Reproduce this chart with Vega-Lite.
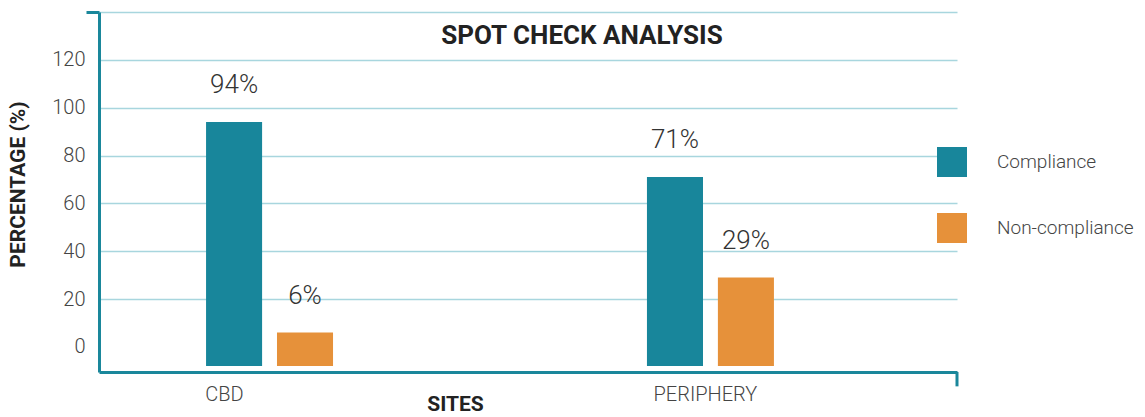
{
  "$schema": "https://vega.github.io/schema/vega-lite/v6.json",
  "width": 858,
  "height": 360,
  "autosize": "none",
  "padding": {"left": 99, "top": 12, "right": 188, "bottom": 45},
  "background": "white",
  "config": {
    "view": {"stroke": null},
    "font": "Roboto",
    "axis": {"labelFont": "Roboto", "titleFont": "Roboto"}
  },
  "title": {
    "text": "SPOT CHECK ANALYSIS",
    "font": "Roboto",
    "fontSize": 26,
    "fontWeight": "bold",
    "color": "#222222",
    "anchor": "middle",
    "orient": "top",
    "baseline": "middle",
    "dx": 54,
    "offset": -51
  },
  "data": {
    "values": [
      {"Site": "CBD", "Type": "Compliance", "Value": 94, "Label": "94%"},
      {"Site": "CBD", "Type": "Non-compliance", "Value": 6, "Label": "6%"},
      {"Site": "PERIPHERY", "Type": "Compliance", "Value": 71, "Label": "71%"},
      {"Site": "PERIPHERY", "Type": "Non-compliance", "Value": 29, "Label": "29%"}
    ]
  },
  "encoding": {
    "x": {
      "field": "Site",
      "type": "nominal",
      "sort": ["CBD", "PERIPHERY"],
      "scale": {"paddingInner": 0.712, "paddingOuter": 0.329, "align": 0.369},
      "axis": {
        "title": "SITES",
        "titleFontSize": 21,
        "titleFontWeight": "bold",
        "titleColor": "#222222",
        "titleX": 356,
        "titleY": 32,
        "titleAlign": "center",
        "titleBaseline": "middle",
        "labelAngle": 0,
        "labelFontSize": 20,
        "labelFontWeight": 300,
        "labelColor": "#444444",
        "labelPadding": 12,
        "labelOffset": {"condition": {"test": "datum.value === 'CBD'", "value": -45}, "value": -5},
        "ticks": false,
        "domain": true,
        "domainColor": "#1a879b",
        "domainWidth": 3,
        "grid": false
      }
    }
  },
  "layer": [
    {
      "mark": {"type": "bar"},
      "encoding": {
        "xOffset": {
          "field": "Type",
          "type": "nominal",
          "scale": {"paddingInner": 0.21, "paddingOuter": 0}
        },
        "y": {
          "field": "Value",
          "type": "quantitative",
          "scale": {"domain": [-10.5, 140], "nice": false, "zero": false},
          "axis": {
            "values": [0, 20, 40, 60, 80, 100, 120, 140],
            "labelExpr": "datum.value === 140 ? '' : datum.label",
            "title": "PERCENTAGE (%)",
            "titleFontSize": 21,
            "titleFontWeight": "bold",
            "titleColor": "#222222",
            "titleAngle": -90,
            "titleX": -81,
            "titleY": 172,
            "titleAlign": "center",
            "titleBaseline": "middle",
            "labelFontSize": 20,
            "labelFontWeight": 300,
            "labelColor": "#444444",
            "labelPadding": 1,
            "tickSize": 13,
            "tickWidth": 3,
            "tickColor": "#1a879b",
            "tickOpacity": {"condition": {"test": "datum.value === 140", "value": 1}, "value": 0},
            "domain": true,
            "domainColor": "#1a879b",
            "domainWidth": 3,
            "grid": true,
            "gridColor": "#a8d6de",
            "gridWidth": 1.5,
            "gridOpacity": {"condition": {"test": "datum.value === 0", "value": 0}, "value": 1}
          }
        },
        "y2": {"datum": -8},
        "color": {
          "field": "Type",
          "type": "nominal",
          "scale": {"domain": ["Compliance", "Non-compliance"], "range": ["#18869b", "#e6913a"]},
          "legend": {
            "orient": "none",
            "legendX": 838,
            "legendY": 135,
            "title": null,
            "symbolType": "square",
            "symbolSize": 900,
            "symbolStrokeWidth": 0,
            "symbolOpacity": 1,
            "labelFont": "Roboto",
            "labelFontSize": 19,
            "labelFontWeight": 300,
            "labelColor": "#444444",
            "labelOffset": 30,
            "rowPadding": 36,
            "padding": 0
          }
        }
      }
    },
    {
      "mark": {"type": "text", "baseline": "middle", "dy": -37, "fontSize": 26, "fontWeight": 300, "font": "Roboto", "color": "#333333"},
      "encoding": {
        "xOffset": {"field": "Type", "type": "nominal"},
        "y": {"field": "Value", "type": "quantitative"},
        "text": {"field": "Label", "type": "nominal"}
      }
    },
    {
      "data": {"values": [{}]},
      "mark": {"type": "rule", "color": "#1a879b", "strokeWidth": 3},
      "encoding": {
        "x": {"value": "width"},
        "y": {"datum": -10.5},
        "y2": {"datum": -16.5}
      }
    }
  ]
}
